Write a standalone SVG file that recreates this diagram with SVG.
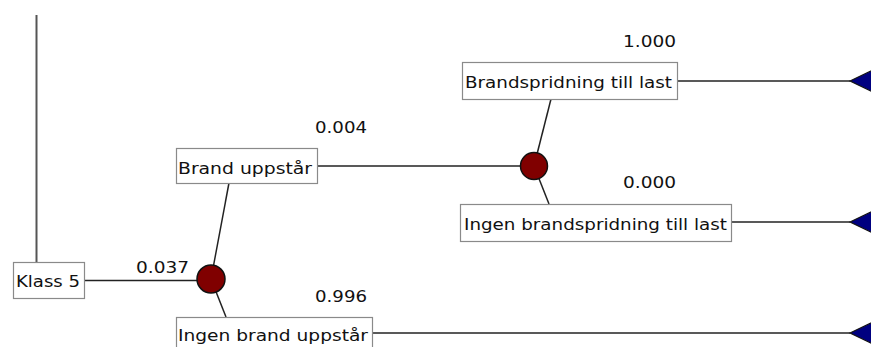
<svg xmlns="http://www.w3.org/2000/svg" width="871" height="347" viewBox="0 0 871 347">
<style>
.box{fill:#fff;stroke:#8a8a8a;stroke-width:1.2}
.lbl{font-family:"DejaVu Sans",sans-serif;font-size:16px;fill:#111}
.num{font-family:"DejaVu Sans",sans-serif;font-size:16px;fill:#111}
.ln{stroke:#222;stroke-width:1.5;fill:none}
.chance{fill:#800000;stroke:#111;stroke-width:1.5}
.term{fill:#000080;stroke:#111;stroke-width:1.2}
</style>
<rect width="871" height="347" fill="#fff"/>
<g id="connectors">
<line class="ln" x1="36.5" y1="15" x2="36.5" y2="262" style="stroke:#555;stroke-width:2"/>
<line class="ln" x1="84" y1="280.5" x2="211" y2="280.5"/>
<line class="ln" x1="211" y1="279" x2="229" y2="183"/>
<line class="ln" x1="211" y1="279" x2="226" y2="317"/>
<line class="ln" x1="317" y1="166" x2="534" y2="166"/>
<line class="ln" x1="534" y1="166" x2="551" y2="99"/>
<line class="ln" x1="534" y1="166" x2="549" y2="204"/>
<line class="ln" x1="677" y1="81" x2="850" y2="81"/>
<line class="ln" x1="731" y1="222" x2="850" y2="222"/>
<line class="ln" x1="372" y1="333" x2="850" y2="333"/>
</g>
<g id="klass5">
<rect class="box" x="13.5" y="262.5" width="71" height="36"/>
<text class="lbl" x="16" y="287" textLength="64" lengthAdjust="spacingAndGlyphs">Klass 5</text>
<text class="num" x="136" y="273" textLength="53" lengthAdjust="spacingAndGlyphs">0.037</text>
</g>
<g id="chance1">
<circle class="chance" cx="211" cy="279" r="14"/>
</g>
<g id="brand-uppstar">
<rect class="box" x="176.5" y="148.5" width="141" height="35"/>
<text class="lbl" x="178" y="174" textLength="134" lengthAdjust="spacingAndGlyphs">Brand uppstår</text>
<text class="num" x="315" y="133" textLength="52" lengthAdjust="spacingAndGlyphs">0.004</text>
</g>
<g id="ingen-brand-uppstar">
<rect class="box" x="176.5" y="317.5" width="196" height="36"/>
<text class="lbl" x="178" y="341" textLength="190" lengthAdjust="spacingAndGlyphs">Ingen brand uppstår</text>
<text class="num" x="315" y="302" textLength="52" lengthAdjust="spacingAndGlyphs">0.996</text>
</g>
<g id="chance2">
<circle class="chance" cx="534" cy="166" r="13.5"/>
</g>
<g id="brandspridning">
<rect class="box" x="462.5" y="62.5" width="215" height="37"/>
<text class="lbl" x="465" y="88" textLength="207" lengthAdjust="spacingAndGlyphs">Brandspridning till last</text>
<text class="num" x="623" y="47" textLength="53" lengthAdjust="spacingAndGlyphs">1.000</text>
</g>
<g id="ingen-brandspridning">
<rect class="box" x="460.5" y="204.5" width="271" height="37"/>
<text class="lbl" x="464" y="230" textLength="263" lengthAdjust="spacingAndGlyphs">Ingen brandspridning till last</text>
<text class="num" x="623" y="188" textLength="53" lengthAdjust="spacingAndGlyphs">0.000</text>
</g>
<g id="terminal1"><polygon class="term" points="850,81 875,69 875,93"/></g>
<g id="terminal2"><polygon class="term" points="850,222 875,210 875,234"/></g>
<g id="terminal3"><polygon class="term" points="850,333 875,321 875,345"/></g>
</svg>
